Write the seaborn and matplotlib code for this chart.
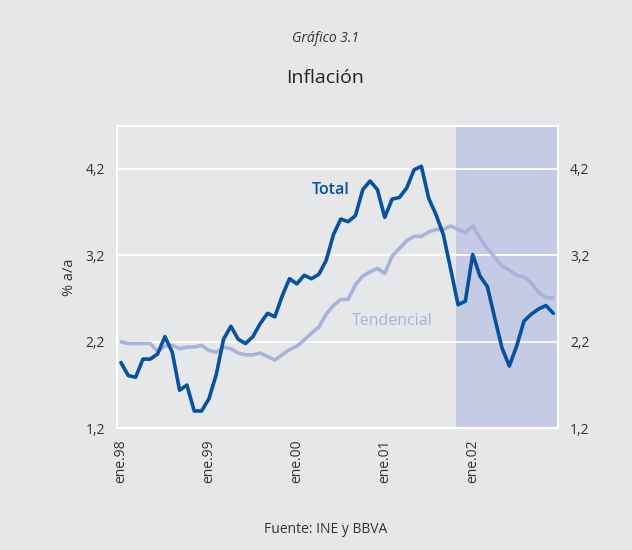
import seaborn as sns
import pandas as pd
import matplotlib.pyplot as plt

# monthly data, ene.98 - dic.02
total = [1.96, 1.81, 1.79, 2.00, 2.00, 2.06, 2.26, 2.08, 1.64, 1.70, 1.40, 1.40,
         1.54, 1.82, 2.23, 2.38, 2.23, 2.18, 2.26, 2.41, 2.53, 2.49, 2.73, 2.93,
         2.87, 2.97, 2.93, 2.98, 3.14, 3.44, 3.62, 3.59, 3.66, 3.96, 4.06, 3.96,
         3.64, 3.85, 3.87, 3.98, 4.19, 4.23, 3.86, 3.67, 3.44, 3.04, 2.63, 2.67,
         3.21, 2.96, 2.84, 2.48, 2.13, 1.92, 2.15, 2.44, 2.52, 2.58, 2.62, 2.53]
tendencial = [2.20, 2.18, 2.18, 2.18, 2.18, 2.09, 2.15, 2.16, 2.12, 2.14, 2.14, 2.16,
              2.10, 2.08, 2.14, 2.12, 2.07, 2.05, 2.05, 2.07, 2.03, 1.99, 2.05, 2.11,
              2.15, 2.22, 2.30, 2.37, 2.52, 2.62, 2.69, 2.69, 2.86, 2.96, 3.01, 3.05,
              2.99, 3.19, 3.28, 3.37, 3.42, 3.42, 3.47, 3.50, 3.50, 3.54, 3.50, 3.46,
              3.54, 3.40, 3.28, 3.18, 3.08, 3.03, 2.97, 2.95, 2.88, 2.77, 2.71, 2.71]
tick_labels = ['ene.98', 'ene.99', 'ene.00', 'ene.01', 'ene.02']
y_ticks = [1.2, 2.2, 3.2, 4.2]

bg = '#e6e7e9'
dark = '#0652a0'
light = '#a8b3dc'

df = pd.DataFrame({'mes': range(len(total)), 'Total': total, 'Tendencial': tendencial})
df = df.melt(id_vars='mes', var_name='serie', value_name='valor')

sns.set_style('white')
plt.rcParams['font.family'] = ['Open Sans', 'DejaVu Sans']

fig = plt.figure(figsize=(6.32, 5.5), dpi=100, facecolor=bg)
ax = fig.add_axes([0.1856, 0.2213, 0.6968, 0.5502])
ax.set_facecolor(bg)

ax.axvspan(45.7, 59.6, color='#c5cbe4', lw=0, zorder=0)
for y in y_ticks[1:]:
    ax.axhline(y, color='white', lw=1.3, zorder=1)

sns.lineplot(data=df, x='mes', y='valor', hue='serie', hue_order=['Tendencial', 'Total'],
             palette={'Total': dark, 'Tendencial': light}, lw=2.6, legend=False, ax=ax,
             zorder=3)

ax.set_xlim(-0.5, 59.6)
ax.set_ylim(1.2, 4.7)
ax.set_xticks(range(0, 60, 12))
ax.set_xticklabels(tick_labels, rotation=90, va='top', ha='center', fontsize=10, color='#333333')
ax.set_yticks(y_ticks)
ax.set_yticklabels([str(v).replace('.', ',') for v in y_ticks], fontsize=10, color='#333333')
ax.tick_params(axis='y', length=0, pad=9, labelright=True)
ax.tick_params(axis='x', length=0, pad=8)
ax.set_xlabel('')
ax.set_ylabel('% a/a', fontsize=10.5, color='#333333', labelpad=6)
for s in ax.spines.values():
    s.set_color('white')
    s.set_linewidth(1.5)

ax.text(28.6, 3.96, 'Total', color=dark, fontsize=11.5, fontweight='semibold', ha='center', va='center')
ax.text(37.0, 2.44, 'Tendencial', color=light, fontsize=11.5, ha='center', va='center')

fig.text(0.515, 0.930, 'Gráfico 3.1', ha='center', va='center', fontsize=10, style='italic', color='#333333')
fig.text(0.515, 0.858, 'Inflación', ha='center', va='center', fontsize=14, color='#222222')
fig.text(0.515, 0.038, 'Fuente: INE y BBVA', ha='center', va='center', fontsize=10, color='#333333')

fig.savefig('out.png', dpi=100, facecolor=bg)
